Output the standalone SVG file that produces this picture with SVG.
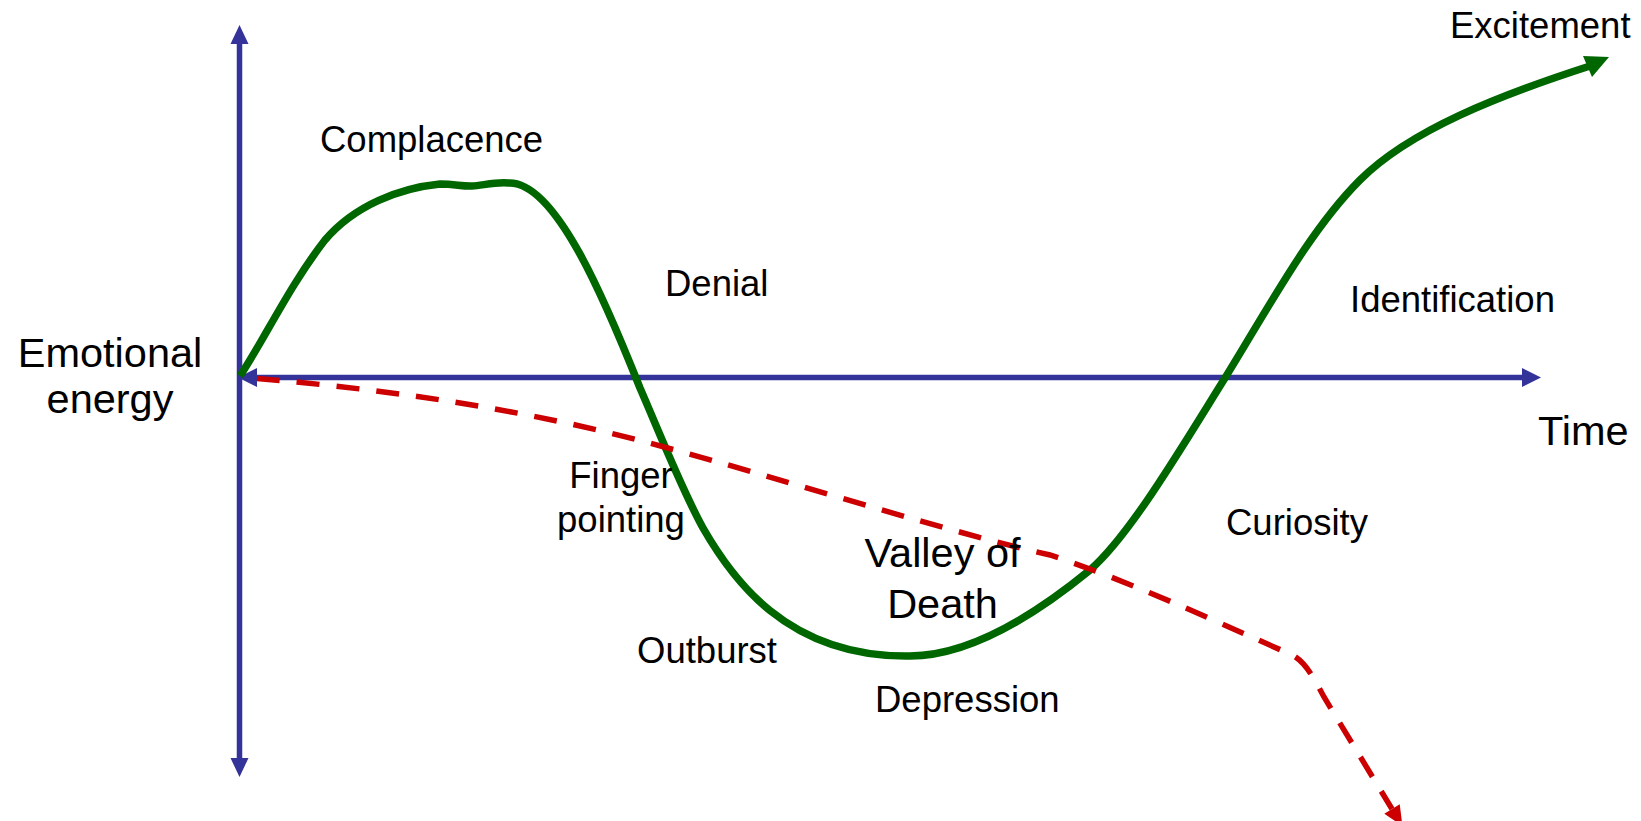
<svg xmlns="http://www.w3.org/2000/svg" width="1641" height="821" viewBox="0 0 1641 821">
<style>
text{font-family:"Liberation Sans",Arial,sans-serif;fill:#000}
.s{font-size:36.5px}
.b{font-size:41.5px}
.axis{stroke:#333399;stroke-width:5.5;fill:none}
.axh{fill:#333399}
.green{stroke:#006600;stroke-width:7.5;fill:none;stroke-linejoin:round}
.red{stroke:#CC0000;stroke-width:5.5;fill:none;stroke-dasharray:23 17}
</style>
<rect width="1641" height="821" fill="#fff"/>
<g id="axes">
<line class="axis" x1="239.5" y1="40" x2="239.5" y2="762"/>
<polygon class="axh" points="239.5,25 230.5,44 248.5,44"/>
<polygon class="axh" points="239.5,777 230.5,758 248.5,758"/>
<line class="axis" x1="255" y1="377.5" x2="1524" y2="377.5"/>
<polygon class="axh" points="238,377.5 257,368 257,387"/>
<polygon class="axh" points="1541,377.5 1522,368 1522,387"/>
</g>
<g id="connectors">
<g id="energy-curve">
<path class="green" d="M240,376 C265,338 290,285 325,240 C355,205 400,188 440,184 C455,184 462,186.5 472,186 C482,185.5 495,182 508,183 C555,180 605,300 640,388 C660,434 682,490 703,528 C730,575 785,658 910,656 C970,656 1035,615 1090,570 C1130,535 1180,450 1225,378 C1270,305 1310,230 1360,180 C1410,130 1500,95 1590,66"/>
<polygon fill="#006600" points="1609,57 1583,56 1592,77"/>
</g>
<g id="decline-curve">
<path class="red" d="M257,378.5 C370,388 490,404 610,433 C730,462 930,528 1050,555 C1130,581 1235,630 1290,654 C1305,660 1315,680 1324,697 L1392,809"/>
<polygon fill="#CC0000" points="1402.5,826 1399.7,804.3 1384.3,813.7"/>
</g>
</g>
<g id="label-emotional-energy">
<text class="b" x="110" y="367" text-anchor="middle">Emotional</text>
<text class="b" x="110" y="413" text-anchor="middle">energy</text>
</g>
<g id="label-time"><text class="b" x="1538" y="445">Time</text></g>
<g id="label-complacence"><text class="s" x="320" y="152">Complacence</text></g>
<g id="label-denial"><text class="s" x="665" y="296">Denial</text></g>
<g id="label-finger-pointing">
<text class="s" x="621" y="488" text-anchor="middle">Finger</text>
<text class="s" x="621" y="532" text-anchor="middle">pointing</text>
</g>
<g id="label-outburst"><text class="s" x="637" y="663">Outburst</text></g>
<g id="label-valley">
<text class="b" x="942.5" y="567" text-anchor="middle">Valley of</text>
<text class="b" x="942.5" y="618" text-anchor="middle">Death</text>
</g>
<g id="label-depression"><text class="s" x="875" y="712">Depression</text></g>
<g id="label-curiosity"><text class="s" x="1226" y="535">Curiosity</text></g>
<g id="label-identification"><text class="s" x="1350" y="312">Identification</text></g>
<g id="label-excitement"><text class="s" x="1450" y="38">Excitement</text></g>
</svg>
